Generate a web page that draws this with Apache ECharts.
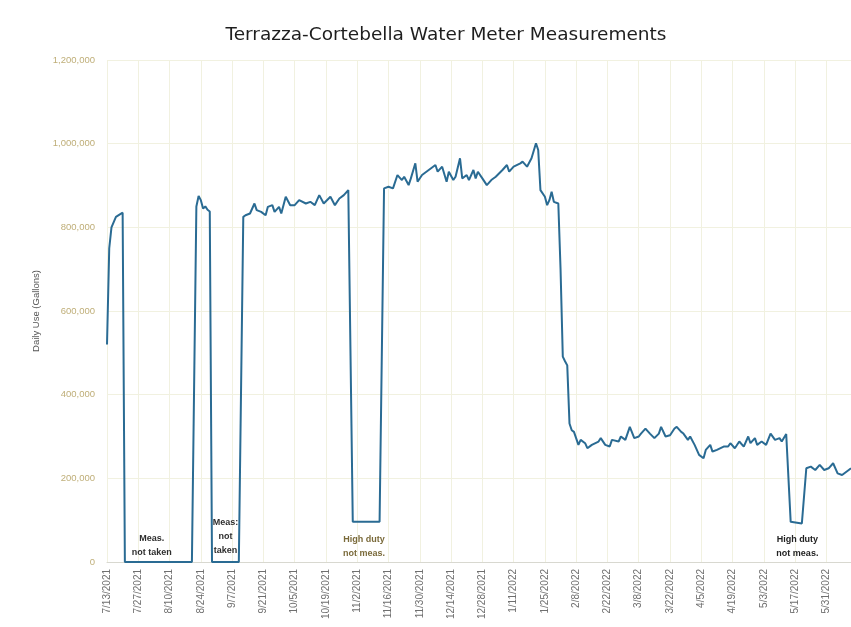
<!DOCTYPE html>
<html>
<head>
<meta charset="utf-8">
<script src="https://cdn.jsdelivr.net/npm/echarts@6/dist/echarts.min.js"></script>
<style>
  html, body { margin: 0; padding: 0; background: #fff; }
  #myChart { width: 851px; height: 627px; }
</style>
</head>
<body>
<div id="myChart"></div>
<script>
// day index counted from 7/13/2021
var startDate = Date.UTC(2021, 6, 13);
var days = [0, 1, 2, 4, 7, 8, 38, 40, 41, 42, 43, 44, 45, 46, 47, 59, 61,
    62, 64, 66, 67, 69, 71, 72, 74, 75, 77, 78, 80, 82, 84, 86, 89, 91, 93, 95, 97, 100, 102, 104, 106, 108, 110, 122, 124,
    126, 128, 130, 132, 133, 135, 136, 138, 139, 141, 144, 147, 148, 150, 152, 153, 155, 156, 158, 159, 161, 162, 164, 165,
    166, 168, 170, 172, 174, 177, 179, 180, 182, 185, 186, 188, 190, 192, 193, 194, 196, 197, 198, 199, 200, 202,
    203, 204, 205, 206, 207, 208, 209, 211, 212, 214, 215,
    217, 220, 221, 223, 225, 226, 229, 230, 232, 234, 236, 238, 239, 241, 243, 245, 247, 248, 250, 252, 254, 255, 257,
    258, 260, 261, 263, 265, 267, 268, 270, 271, 273, 276, 278, 279, 281, 283, 285, 287, 288, 290, 291, 293, 295, 297,
    299, 301, 302, 304, 306, 311, 313, 315, 317, 319, 321, 323, 325, 327, 329, 332, 333];
// daily use, thousands of gallons
var useK = [520, 750, 800, 825, 835, 0, 0, 850, 875, 865, 845, 850, 842, 838, 0, 0, 825,
    829, 833, 857, 841, 837, 829, 849, 853, 837, 849, 833, 873, 853, 853, 865, 857, 861, 853, 877, 857, 873, 853, 869, 877, 889, 96, 96, 893,
    897, 893, 925, 913, 921, 901, 917, 953, 909, 925, 937, 949, 933, 945, 909, 933, 913, 921, 965, 917, 925, 913, 937, 917,
    933, 917, 901, 913, 921, 937, 949, 933, 945, 953, 957, 945, 965, 1001, 985, 889, 873, 853, 865, 885, 861, 857,
    700, 491, 480, 470, 331, 315, 311, 280, 292, 284, 272,
    280, 288, 296, 280, 276, 292, 288, 300, 292, 323, 296, 300, 307, 319, 307, 296, 307, 323, 300, 303, 319, 323, 311,
    307, 292, 300, 280, 256, 248, 268, 280, 264, 268, 276, 276, 284, 272, 288, 276, 300, 284, 296, 280, 288, 280, 307,
    292, 296, 288, 306, 96, 92, 224, 228, 220, 232, 220, 224, 236, 212, 208, 220, 224];

var notes = ['Meas.\nnot taken', 'Meas:\nnot\ntaken', 'High duty\nnot meas.', 'High duty\nnot meas.'];
var noteDays = [20, 53, 115, 309];
var noteK = [40, 60, 36, 38];
var noteColors = ['#2e2e2e', '#2e2e2e', '#7a6a3a', '#222222'];

function dayLabel(d) {
    var t = new Date(startDate + d * 86400000);
    return (t.getUTCMonth() + 1) + '/' + t.getUTCDate() + '/' + t.getUTCFullYear();
}

var seriesData = [];
for (var i = 0; i < days.length; i++) {
    seriesData.push([days[i], useK[i] * 1000]);
}
var notePoints = [];
for (var j = 0; j < notes.length; j++) {
    notePoints.push({
        coord: [noteDays[j], noteK[j] * 1000],
        label: { formatter: notes[j], color: noteColors[j] }
    });
}

var option = {
    backgroundColor: '#ffffff',
    animation: false,
    title: {
        text: 'Terrazza-Cortebella Water Meter Measurements',
        left: 441,
        textAlign: 'center',
        top: 21,
        textStyle: {
            fontFamily: 'DejaVu Sans',
            fontWeight: 'normal',
            fontSize: 18.5,
            color: '#1e1e1e'
        }
    },
    grid: {
        left: 107,
        right: 0,
        top: 60,
        bottom: 65
    },
    xAxis: {
        type: 'value',
        min: 0,
        max: 333,
        interval: 14,
        axisLine: { lineStyle: { color: '#d8d8d0' } },
        axisTick: { show: false },
        splitLine: { lineStyle: { color: '#f1f1e0' } },
        axisLabel: {
            rotate: 90,
            fontSize: 10,
            color: '#6f6f6f',
            margin: 7,
            showMaxLabel: false,
            formatter: dayLabel
        }
    },
    yAxis: {
        type: 'value',
        min: 0,
        max: 1200000,
        interval: 200000,
        name: 'Daily Use (Gallons)',
        nameLocation: 'middle',
        nameRotate: 90,
        nameGap: 65,
        nameTextStyle: { fontSize: 9.5, color: '#555' },
        axisLine: { show: false },
        axisTick: { show: false },
        splitLine: { lineStyle: { color: '#f1f1e0' } },
        axisLabel: {
            fontSize: 9.5,
            color: '#bfae78',
            margin: 12,
            formatter: function (v) { return v.toLocaleString('en-US'); }
        }
    },
    series: [
        {
            name: 'Daily Use',
            type: 'line',
            data: seriesData,
            showSymbol: false,
            lineStyle: { color: '#2a6b93', width: 2 },
            itemStyle: { color: '#2a6b93' },
            markPoint: {
                symbol: 'circle',
                symbolSize: 0,
                label: {
                    show: true,
                    position: 'inside',
                    fontSize: 9,
                    fontWeight: 'bold',
                    lineHeight: 14,
                    fontFamily: 'Liberation Sans'
                },
                data: notePoints
            }
        }
    ]
};

var myChart = echarts.init(document.getElementById('myChart'));
myChart.setOption(option);
window.onresize = myChart.resize;
</script>
</body>
</html>
